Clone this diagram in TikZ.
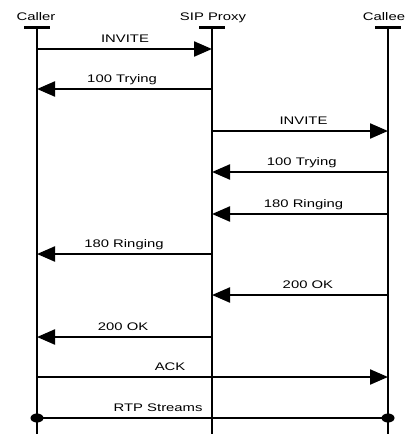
\documentclass[tikz,border=0pt]{standalone}
\usepackage{fontspec}
\setmainfont{Liberation Sans}[FakeStretch=1.35]
\usetikzlibrary{arrows.meta}

\begin{document}
\begin{tikzpicture}[x=1pt,y=-1pt,font=\fontsize{11}{13}\selectfont,
  life/.style={line width=2.8pt},
  msg/.style={line width=2.2pt,-{Triangle[length=18pt,width=15pt]}},
  lbl/.style={anchor=base,yshift=6.5pt,inner sep=0pt},
  hd/.style={anchor=base,inner sep=0pt}]
\clip (0,0) rectangle (406,434);

% parties
\node[hd] (caller) at (36,20.5)  {Caller};
\node[hd] (proxy)  at (213,20.5) {SIP Proxy};
\node[hd] (callee) at (384,20.5) {Callee};

\coordinate (cr) at (37,27.5);
\coordinate (px) at (212,27.5);
\coordinate (ce) at (388,27.5);

% lifelines with their T bars
\foreach \p in {cr,px,ce}{
  \draw[life] ([xshift=-13pt]\p) -- ([xshift=13pt]\p);
  \draw[life] (\p) -- (\p |- 0,440);
}

% messages
\draw[msg] (cr |- 0,49)  -- node[lbl,pos=.503]{INVITE}      (px |- 0,49);
\draw[msg] (px |- 0,89)  -- node[lbl,pos=.514]{100 Trying}  (cr |- 0,89);
\draw[msg] (px |- 0,131) -- node[lbl,pos=.52]{INVITE}       (ce |- 0,131);
\draw[msg] (ce |- 0,172) -- node[lbl,pos=.49]{100 Trying}   (px |- 0,172);
\draw[msg] (ce |- 0,214) -- node[lbl,pos=.48]{180 Ringing}  (px |- 0,214);
\draw[msg] (px |- 0,254) -- node[lbl,pos=.503]{180 Ringing} (cr |- 0,254);
\draw[msg] (ce |- 0,295) -- node[lbl,pos=.455]{200 OK}      (px |- 0,295);
\draw[msg] (px |- 0,337) -- node[lbl,pos=.508]{200 OK}      (cr |- 0,337);
\draw[msg] (cr |- 0,377) -- node[lbl,pos=.379]{ACK}         (ce |- 0,377);

% media between the end points
\coordinate (rtpa) at (cr |- 0,418);
\coordinate (rtpb) at (ce |- 0,418);
\draw[line width=2.2pt] (rtpa) -- node[lbl,pos=.345]{RTP Streams} (rtpb);
\fill (rtpa) ellipse [x radius=6.5pt,y radius=4.5pt];
\fill (rtpb) ellipse [x radius=6.5pt,y radius=4.5pt];
\end{tikzpicture}
\end{document}
